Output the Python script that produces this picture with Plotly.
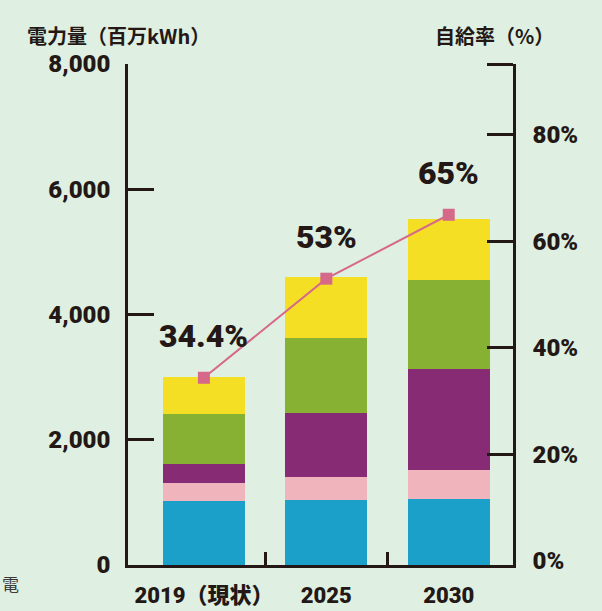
import plotly.graph_objects as go

# ---- data ----
categories = ["2019（現状）", "2025", "2030"]
seg_blue = [1020, 1040, 1055]
seg_pink = [295, 365, 465]
seg_purple = [300, 1025, 1610]
seg_green = [795, 1200, 1420]
seg_yellow = [590, 975, 975]
self_rate = [34.4, 53, 65]          # 自給率 (%)
left_ticks = [0, 2000, 4000, 6000, 8000]
right_ticks = [0, 20, 40, 60, 80]

# ---- style ----
BG = "#dff0e2"
INK = "#231815"
NUM_FONT = "Roboto, 'Noto Sans CJK JP', sans-serif"
JP_FONT = "'Noto Sans CJK JP', 'Noto Sans', sans-serif"
COLORS = ["#1ba1c9", "#efb4bc", "#872b75", "#86b133", "#f5df24"]
LINE_COLOR = "#d6698a"

X_RANGE = [-0.62, 2.525]
Y2_RANGE = [-0.75, 93.3]

fig = go.Figure()
for vals, col in zip([seg_blue, seg_pink, seg_purple, seg_green, seg_yellow], COLORS):
    fig.add_trace(go.Bar(x=categories, y=vals, marker=dict(color=col, line=dict(width=0)),
                         hoverinfo="skip"))

idx = list(range(len(categories)))
fig.add_trace(go.Scatter(x=idx, y=self_rate, xaxis="x2", yaxis="y2", mode="lines+markers",
                         line=dict(color=LINE_COLOR, width=2),
                         marker=dict(symbol="square", size=12, color=LINE_COLOR),
                         hoverinfo="skip"))

annotations = []
for i, r in enumerate(self_rate):
    annotations.append(dict(x=i, y=r, xref="x2", yref="y2", text=f"{r:g}%", showarrow=False,
                            yshift=42, font=dict(family=NUM_FONT, size=32, color=INK, weight=900)))

annotations.append(dict(x=-0.2675, y=1.056, xref="paper", yref="paper", xanchor="left", yanchor="middle",
                        text="電力量（百万kWh）", showarrow=False,
                        font=dict(family=JP_FONT, size=20, color=INK, weight="bold")))
annotations.append(dict(x=1.1117, y=1.056, xref="paper", yref="paper", xanchor="right", yanchor="middle",
                        text="自給率（%）", showarrow=False,
                        font=dict(family=JP_FONT, size=20, color=INK, weight="bold")))
annotations.append(dict(x=-0.3325, y=-0.036, xref="paper", yref="paper", xanchor="left", yanchor="middle",
                        text="電", showarrow=False,
                        font=dict(family=JP_FONT, size=17, color="#3a3a3a")))

fig.update_layout(
    width=602, height=611,
    margin=dict(l=128, r=89, t=64, b=46, autoexpand=False),
    paper_bgcolor=BG, plot_bgcolor=BG,
    barmode="stack", bargap=0.33, showlegend=False,
    annotations=annotations,
    xaxis=dict(type="category", range=X_RANGE, showline=True, linecolor=INK, linewidth=2.5,
               ticks="", showgrid=False, zeroline=False, layer="below traces", automargin=False,
               ticklabelstandoff=9,
               tickfont=dict(family=NUM_FONT, size=22, color=INK, weight=900)),
    xaxis2=dict(overlaying="x", anchor="y", side="bottom", type="linear", range=X_RANGE,
                tickvals=[0.5, 1.5], ticks="inside", ticklen=13, tickwidth=2.5, tickcolor=INK,
                showticklabels=False, showline=False, showgrid=False, zeroline=False,
                automargin=False),
    yaxis=dict(range=[left_ticks[0], left_ticks[-1]], tickvals=left_ticks,
               ticktext=[f"{v:,}" for v in left_ticks],
               ticks="inside", ticklen=26, tickwidth=2.5, tickcolor=INK,
               showline=True, linecolor=INK, linewidth=2.5, showgrid=False, zeroline=False,
               ticklabelstandoff=10, automargin=False,
               tickfont=dict(family=NUM_FONT, size=24, color=INK, weight=900)),
    yaxis2=dict(overlaying="y", anchor="x", side="right", range=Y2_RANGE,
                tickvals=right_ticks, ticktext=[f"{v}%" for v in right_ticks],
                ticks="", showline=True, linecolor=INK, linewidth=2.5,
                showgrid=False, zeroline=False, ticklabelstandoff=12, automargin=False,
                tickfont=dict(family=NUM_FONT, size=24, color=INK, weight=900),
                minor=dict(tickvals=right_ticks[1:] + [Y2_RANGE[1]], ticks="inside",
                           ticklen=26, tickwidth=2.5, tickcolor=INK, showgrid=False)),
)

fig.write_html(
    "out.html",
    config={"displayModeBar": False},
    post_script="document.body.style.margin='0';document.body.style.background='%s';" % BG,
)
